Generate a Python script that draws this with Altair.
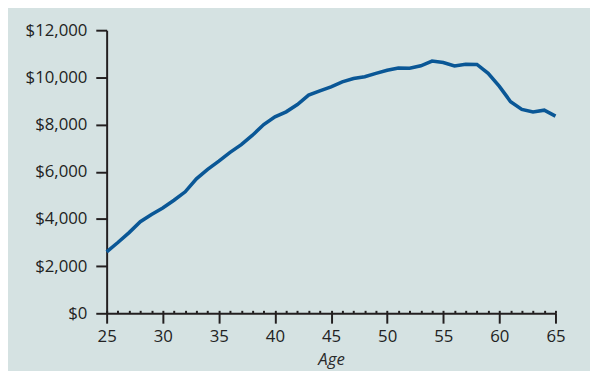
import altair as alt
import pandas as pd

ages = list(range(25, 66))
spending = [2600, 3000, 3420, 3880, 4190, 4460, 4790, 5150, 5700, 6100,
            6450, 6820, 7150, 7550, 8000, 8330, 8540, 8850, 9250, 9430,
            9600, 9810, 9950, 10030, 10170, 10300, 10400, 10390, 10490, 10690,
            10630, 10480, 10560, 10550, 10170, 9620, 8970, 8640, 8530, 8610,
            8360]
x_ticks = [25, 30, 35, 40, 45, 50, 55, 60, 65]
y_ticks = [0, 2000, 4000, 6000, 8000, 10000, 12000]

df = pd.DataFrame({"Age": ages, "Spending": spending})

FONT = "Open Sans"
AX = "#231f20"
LBL = "#222222"

xscale = alt.Scale(domain=[25, 65], nice=False, zero=False)
yscale = alt.Scale(domain=[0, 12000], nice=False)

yaxis = alt.Axis(values=y_ticks, title=None, format="$,.0f",
                 labelFont=FONT, labelFontSize=17, labelColor=LBL,
                 labelPadding=9, tickSize=11, tickWidth=2, tickColor=AX,
                 domainColor=AX, domainWidth=2, grid=False)

line = alt.Chart(df).mark_line(color="#0a5796", strokeWidth=3.6).encode(
    x=alt.X("Age:Q", scale=xscale,
            axis=alt.Axis(values=x_ticks, title="Age", titleFontStyle="italic",
                          titleFont=FONT, titleFontSize=17, titleFontWeight="normal",
                          titleColor="#2a2a2a", titlePadding=7,
                          labelFont=FONT, labelFontSize=17, labelColor=LBL,
                          labelPadding=6, tickSize=10, tickWidth=2, tickColor=AX,
                          domainColor=AX, domainWidth=2, grid=False, labelFlush=False)),
    y=alt.Y("Spending:Q", scale=yscale, axis=yaxis),
)

minor = alt.Chart(df).mark_point(opacity=0).encode(
    x=alt.X("Age:Q", scale=xscale,
            axis=alt.Axis(orient="top", offset=-287, values=ages, labels=False,
                          title=None, domain=False, grid=False, tickSize=3,
                          tickWidth=2, tickColor=AX)),
    y=alt.Y("Spending:Q", scale=yscale, axis=yaxis),
)

chart = alt.layer(line, minor).resolve_axis(x="independent").properties(
    width=455, height=287,
    padding={"left": 100, "top": 20, "right": 35, "bottom": 56},
    autosize="none",
    background="#d5e2e2",
).configure_view(stroke=None)

chart.save("out.html", embed_options={"renderer": "svg", "actions": False})
